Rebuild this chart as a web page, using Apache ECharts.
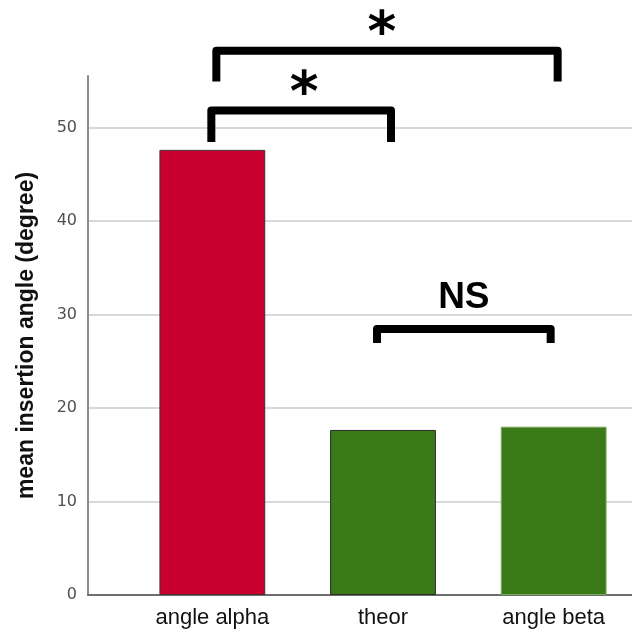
<!DOCTYPE html>
<html><head><meta charset="utf-8">
<script src="https://cdn.jsdelivr.net/npm/echarts@6/dist/echarts.min.js"></script>
<style>html,body{margin:0;padding:0;background:#fff}#c{width:632px;height:631px}</style>
</head><body><div id="c"></div>
<script>
// ---- data ----
const categories = ['angle alpha', 'theor', 'angle beta'];
const meanAngle = [47.6, 17.65, 18.0];
const yAxisName = 'mean insertion angle (degree)';
const yMax = 55.5;
const yStep = 10;
// significance brackets (category indices, levels in degrees)
const bracketFrom = [0, 0, 1];
const bracketTo = [1, 2, 2];
const bracketLevel = [51.8, 58.2, 28.45];
const bracketFoot = [48.45, 54.9, 26.95];
const bracketText = ['*', '*', 'NS'];
const bracketTextLevel = [54.7, 61.2, 31.8];

// ---- styles ----
const barColors = ['#c8002f', '#3a7a17', '#3a7a17'];
const barBorders = ['#4a2a30', '#2a2a2a', '#79a860'];
const legNudge = [[-1, 8], [4, 4], [-6, -3]];
const textNudge = [3, -5, 0];

const chart = echarts.init(document.getElementById('c'), null, {renderer: 'canvas'});
const TOP = 76, BOTTOM = 36;
const option = {
  animation: false,
  backgroundColor: '#fff',
  grid: [
    {left: 127, width: 512, top: TOP, bottom: BOTTOM, outerBoundsMode: 'none', containLabel: false},
    {left: 88, width: 552, top: TOP, bottom: BOTTOM, outerBoundsMode: 'none', containLabel: false}
  ],
  xAxis: [
    {type: 'category', gridIndex: 0, data: categories,
     axisLine: {show: false}, axisTick: {show: false},
     axisLabel: {fontSize: 22, color: '#111', margin: 12, fontFamily: 'Liberation Sans'}},
    {type: 'value', gridIndex: 1, min: 0, max: 1,
     axisLine: {show: true, lineStyle: {color: '#6e6e6e', width: 2}},
     axisTick: {show: false}, axisLabel: {show: false}, splitLine: {show: false}}
  ],
  yAxis: [
    {type: 'value', gridIndex: 0, min: 0, max: yMax, interval: yStep, show: false, splitLine: {show: false}},
    {type: 'value', gridIndex: 1, min: 0, max: yMax, interval: yStep,
     name: yAxisName, nameLocation: 'middle', nameGap: 50,
     nameTextStyle: {fontSize: 23, fontWeight: 'bold', color: '#111', fontFamily: 'Liberation Sans'},
     axisLine: {show: true, lineStyle: {color: '#8c8c8c', width: 2}},
     axisTick: {show: false},
     axisLabel: {fontSize: 16, color: '#505050', margin: 11, fontFamily: 'DejaVu Sans', showMaxLabel: false},
     splitLine: {show: true, showMaxLine: false, lineStyle: {color: '#d9d9d9', width: 2}}}
  ],
  series: [
    {type: 'bar', xAxisIndex: 0, yAxisIndex: 0, barWidth: '62%',
     data: meanAngle.map((v, i) => ({value: v, itemStyle: {color: barColors[i], borderColor: barBorders[i], borderWidth: 1}}))},
    {type: 'custom', xAxisIndex: 0, yAxisIndex: 0, clip: false, z: 5,
     data: bracketFrom.map((f, i) => [f, bracketTo[i], bracketLevel[i], bracketFoot[i], bracketTextLevel[i]]),
     encode: {x: [0, 1], y: [2, 3, 4]},
     renderItem: function (params, api) {
       const i = params.dataIndex;
       const f = api.value(0), t = api.value(1);
       const xa = api.coord([f, api.value(2)])[0] + legNudge[i][0];
       const xb = api.coord([t, api.value(2)])[0] + legNudge[i][1];
       const yTop = api.coord([f, api.value(2)])[1];
       const yFoot = api.coord([f, api.value(3)])[1];
       const yText = api.coord([f, api.value(4)])[1];
       const star = bracketText[i] === '*';
       const fs = star ? 55 : 37;
       return {type: 'group', children: [
         {type: 'polyline', shape: {points: [[xa, yFoot], [xa, yTop], [xb, yTop], [xb, yFoot]]},
          style: {stroke: '#000', lineWidth: 8, fill: null, lineJoin: 'round', lineCap: 'butt'}},
         {type: 'text', style: {text: bracketText[i], x: (xa + xb) / 2 + textNudge[i], y: yText + (star ? 0.23 * fs : 0),
          align: 'center', verticalAlign: 'middle', fontSize: fs, fontWeight: 'bold',
          fontFamily: star ? 'DejaVu Sans' : 'Liberation Sans', fill: '#000'}}
       ]};
     }}
  ]
};
chart.setOption(option);
</script></body></html>
